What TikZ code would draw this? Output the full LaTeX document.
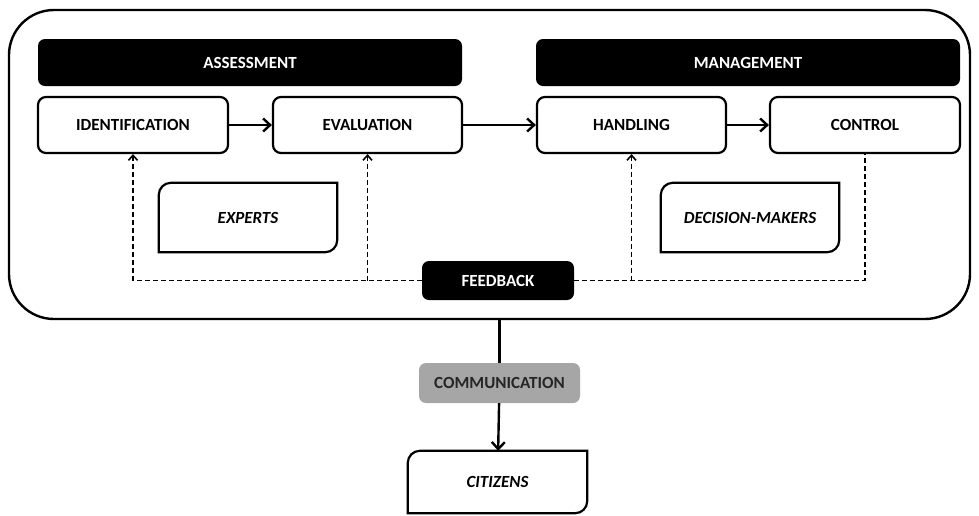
\documentclass[tikz,border=0pt]{standalone}
\usepackage{fontspec}
\setmainfont{Carlito}
\usetikzlibrary{arrows.meta,calc}

\definecolor{commgray}{HTML}{A6A6A6}

\tikzset{
  lbl/.style={font=\fontsize{17}{19}\selectfont\bfseries},
  stagebox/.style={lbl, draw, line width=2.2pt, rounded corners=8pt, fill=white, inner sep=0pt},
  headbar/.style={lbl, fill=black, text=white, rounded corners=7pt, inner sep=0pt},
  actorlbl/.style={font=\fontsize{17}{19}\selectfont\bfseries\itshape, inner sep=0pt},
  actorline/.style={line width=2.2pt},
  flow/.style={line width=2.4pt, -{Straight Barb[length=7pt,width=13pt,line width=2.4pt]}},
  fbline/.style={line width=1.7pt, dash pattern=on 5pt off 3pt},
  fbtip/.style={-{Straight Barb[length=5pt,width=9pt,line width=1.6pt]}},
}

\begin{document}
\begin{tikzpicture}[x=1pt,y=-1pt]
  \useasboundingbox (0,0) rectangle (979,515);

  % outer frame around the whole process
  \node[draw, line width=2.4pt, rounded corners=45pt, minimum width=961pt, minimum height=309pt, inner sep=0pt]
    (frame) at (489.5,164.5) {};

  % phase headers
  \node[headbar, minimum width=424pt, minimum height=47pt] (assess) at (250,62.5) {ASSESSMENT};
  \node[headbar, minimum width=424pt, minimum height=47pt] (manage) at (748,62.5) {MANAGEMENT};

  % process steps
  \node[stagebox, minimum width=190pt, minimum height=56pt] (ident) at (133,125) {IDENTIFICATION};
  \node[stagebox, minimum width=189pt, minimum height=56pt] (eval)  at (367.5,125) {EVALUATION};
  \node[stagebox, minimum width=189pt, minimum height=56pt] (hand)  at (631.5,125) {HANDLING};
  \node[stagebox, minimum width=190pt, minimum height=56pt] (ctrl)  at (865,125) {CONTROL};

  % actors
  \node[actorlbl, minimum width=178pt, minimum height=69pt] (experts) at (248,217.5) {EXPERTS};
  \node[actorlbl, minimum width=178pt, minimum height=69pt] (deci)    at (750,217.5) {DECISION-MAKERS};
  \node[actorlbl, minimum width=179pt, minimum height=62pt] (cit)     at (497.5,482) {CITIZENS};
  \foreach \n in {experts,deci,cit}{
    \draw[actorline] (\n.south west) [rounded corners=12pt] -- (\n.north west) [sharp corners] -- (\n.north east)
      [rounded corners=12pt] -- (\n.south east) [sharp corners] -- cycle;
  }

  % feedback and communication
  \node[headbar, minimum width=152pt, minimum height=39pt] (fb) at (498,280.5) {FEEDBACK};
  \node[lbl, fill=commgray, text=black!85, rounded corners=7pt, inner sep=0pt,
        minimum width=161pt, minimum height=40pt] (comm) at (499.5,383) {COMMUNICATION};

  % main flow
  \draw[flow] (ident) -- (eval);
  \draw[flow] (eval) -- (hand);
  \draw[flow] (hand) -- (ctrl);
  \draw[line width=2.4pt] (comm.north |- frame.south) -- (comm.north);
  \draw[flow] (comm) -- (cit);

  % feedback loops
  \draw[fbline] (fb.west) -- (fb.west -| ident.south);
  \draw[fbline, fbtip] (fb.west -| ident.south) -- (ident.south);
  \draw[fbline, fbtip] (fb.west -| eval.south) -- (eval.south);
  \draw[fbline] (fb.east) -| (ctrl.south);
  \draw[fbline, fbtip] (fb.east -| hand.south) -- (hand.south);
\end{tikzpicture}
\end{document}
